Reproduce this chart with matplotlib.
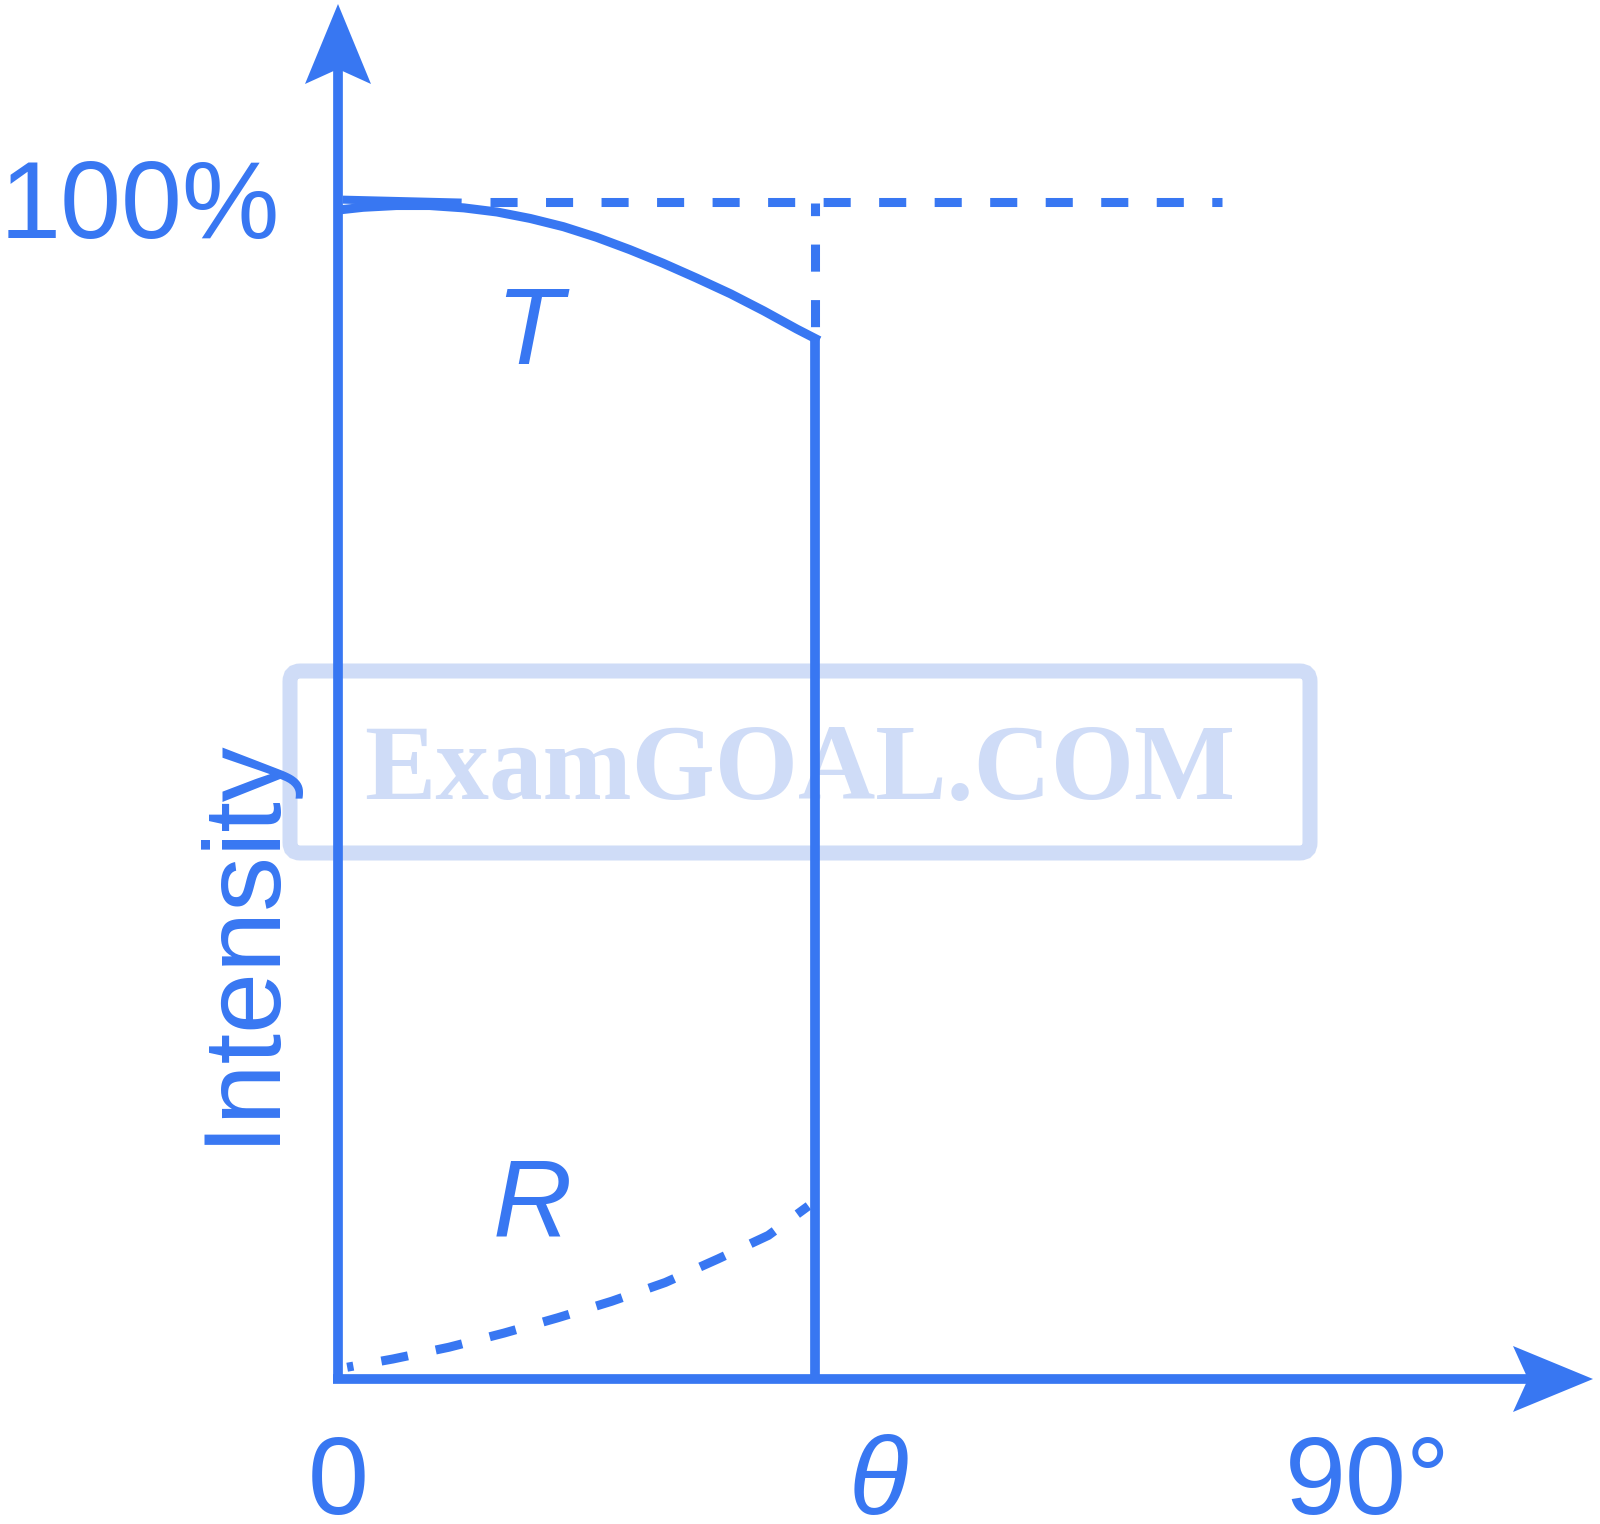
import numpy as np
import matplotlib.pyplot as plt
from matplotlib.patches import Polygon, FancyBboxPatch

BLUE = '#3877f2'
PALE = '#cfdcf7'

# --- values (angle in degrees, intensity in %) ---
theta_c = 41.7          # the angle where the solid vertical line stands
full = 100              # the 100% level
t_angle = [0.32, 2.2, 5.1, 8.0, 11.0, 13.9, 16.8, 19.7, 22.6, 25.5,
           28.4, 31.3, 34.3, 37.2, 40.1, 41.7]
t_value = [99.35, 99.55, 99.7, 99.7, 99.5, 99.15, 98.6, 97.9, 97.0, 95.95,
           94.8, 93.55, 92.2, 90.75, 89.2, 88.4]
r_angle = [0.8, 4.8, 9.7, 14.5, 19.2, 23.9, 28.6, 33.2, 37.6, 41.1]
r_value = [1.0, 1.7, 2.7, 3.9, 5.2, 6.6, 8.2, 10.2, 12.2, 14.7]
x_ticks = [0, theta_c, 90]
x_tick_labels = ['0', 'θ', '90°']
y_tick_label = '100%'

# --- layout: where 0 / 90 deg and 0 / 100 % sit in the 1600x1524 picture ---
W, H = 1600, 1524
X0, X90 = 338, 1368
Y0, Y100 = 1379, 202
PX_X = (X90 - X0) / 90
PX_Y = (Y0 - Y100) / 100

fig = plt.figure(figsize=(W / 100, H / 100), dpi=100)
ax = fig.add_axes([0, 0, 1, 1])
ax.set_xlim(-X0 / PX_X, (W - X0) / PX_X)
ax.set_ylim(-(H - Y0) / PX_Y, Y0 / PX_Y)
ax.axis('off')

LW = 6.5                      # pt -> ~9 px
AXLW = 7.0
dash = (3.0, 3.15)

# watermark box + text (below everything)
box = FancyBboxPatch((-48 / PX_X, (Y0 - 853) / PX_Y), 1020 / PX_X, 182 / PX_Y,
                     boxstyle='round,pad=0,rounding_size=0.9',
                     fc='none', ec=PALE, lw=10.8, zorder=1)
ax.add_patch(box)
ax.text((800 - X0) / PX_X, (Y0 - 799) / PX_Y, 'ExamGOAL.COM', ha='center', va='baseline',
        family='Liberation Serif', weight='bold', fontsize=77, color=PALE, zorder=1)

# axes lines
axis_top = (Y0 - 4) / PX_Y
axis_right = (1593 - X0) / PX_X
head_len, head_half, notch = 80, 33, 15   # px

ax.plot([0, 0], [0, axis_top - (head_len - notch) / PX_Y], color=BLUE, lw=AXLW,
        solid_capstyle='butt', zorder=3)
ax.plot([-5 / PX_X, axis_right - (head_len - notch) / PX_X], [0, 0], color=BLUE, lw=AXLW,
        solid_capstyle='butt', zorder=3)

up = [(0, axis_top),
      (-head_half / PX_X, axis_top - head_len / PX_Y),
      (0, axis_top - (head_len - notch) / PX_Y),
      (head_half / PX_X, axis_top - head_len / PX_Y)]
right = [(axis_right, 0),
         (axis_right - head_len / PX_X, head_half / PX_Y),
         (axis_right - (head_len - notch) / PX_X, 0),
         (axis_right - head_len / PX_X, -head_half / PX_Y)]
ax.add_patch(Polygon(up, closed=True, fc=BLUE, ec='none', zorder=3))
ax.add_patch(Polygon(right, closed=True, fc=BLUE, ec='none', zorder=3))

# 100% level: short solid piece then dashes
ax.plot([0.4, 10.8], [full + 0.2, full - 0.05], color=BLUE, lw=5.8,
        solid_capstyle='butt', zorder=3)
ax.plot([(490 - X0) / PX_X, (1222 - X0) / PX_X], [full, full], color=BLUE, lw=LW,
        ls=(0, dash), zorder=3)

# T curve
ax.plot(t_angle, t_value, color=BLUE, lw=LW, solid_joinstyle='round', zorder=3)

# vertical at theta_c: dashed above T, solid below
ax.plot([theta_c, theta_c], [99.9, t_value[-1]], color=BLUE, lw=LW,
        ls=(1.6, dash), zorder=3)
ax.plot([theta_c, theta_c], [t_value[-1], 0], color=BLUE, lw=AXLW,
        solid_capstyle='butt', zorder=3)

# R curve (dashed)
ax.plot(r_angle, r_value, color=BLUE, lw=LW, ls=(2.3, dash), zorder=3)

# labels
FS = 79
base_y = (Y0 - 1514) / PX_Y
ax.text(-58 / PX_X, (Y0 - 238) / PX_Y, y_tick_label, ha='right', va='baseline',
        family='Liberation Sans', fontsize=FS, color=BLUE)
ax.text(x_ticks[0], base_y, x_tick_labels[0], ha='center', va='baseline',
        family='Liberation Sans', fontsize=FS, color=BLUE)
ax.text(x_ticks[1] + 5.5, base_y, x_tick_labels[1], ha='center', va='baseline',
        family='Liberation Sans', style='italic', fontsize=FS, color=BLUE)
ax.text(x_ticks[2], base_y, x_tick_labels[2], ha='center', va='baseline',
        family='Liberation Sans', fontsize=FS, color=BLUE)
ax.text((271 - X0) / PX_X, (Y0 - 940) / PX_Y, 'Intensity', rotation=90,
        rotation_mode='anchor', ha='center', va='baseline',
        family='Liberation Sans', fontsize=FS, color=BLUE)
ax.text((529 - X0) / PX_X, (Y0 - 364) / PX_Y, 'T', ha='center', va='baseline',
        family='Liberation Sans', style='italic', fontsize=FS, color=BLUE)
ax.text((532 - X0) / PX_X, (Y0 - 1235) / PX_Y, 'R', ha='center', va='baseline',
        family='Liberation Sans', style='italic', fontsize=FS, color=BLUE)

fig.savefig('out.png', dpi=100)
